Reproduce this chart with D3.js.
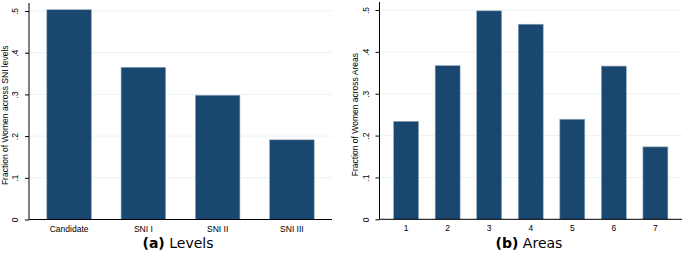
<!DOCTYPE html>
<html>
<head>
<meta charset="utf-8">
<script src="https://cdn.jsdelivr.net/npm/d3@7"></script>
<style>
  body { margin: 0; background: #fff; }
  svg { display: block; }
</style>
</head>
<body>
<div id="chart"></div>
<script>
const levels = ["Candidate", "SNI I", "SNI II", "SNI III"];
const levelShares = [0.503, 0.365, 0.298, 0.191];

const areas = ["1", "2", "3", "4", "5", "6", "7"];
const areaShares = [0.234, 0.367, 0.498, 0.466, 0.239, 0.366, 0.173];

const yTicks = [0, 0.1, 0.2, 0.3, 0.4, 0.5];
const yTickLabels = ["0", ".1", ".2", ".3", ".4", ".5"];

const navy = "#1a476f";
const grid = "#eaf2f3";
const tickFont = "Liberation Sans, Arial, sans-serif";
const capFont = "DejaVu Sans, sans-serif";

const svg = d3.select("#chart")
    .append("svg")
    .attr("width", 685)
    .attr("height", 258);

function panel(opts) {
    const g = svg.append("g");

    const x = d3.scaleBand()
        .domain(opts.cats)
        .range([opts.left, opts.right])
        .paddingInner(0.4)
        .paddingOuter(opts.outer);

    const y = d3.scaleLinear()
        .domain([0, 0.5])
        .range([opts.bottom, opts.top]);

    // gridlines
    g.selectAll(".grid")
        .data(yTicks.slice(1))
        .enter()
        .append("line")
        .attr("x1", opts.left + 1)
        .attr("x2", opts.right)
        .attr("y1", d => y(d))
        .attr("y2", d => y(d))
        .attr("stroke", grid)
        .attr("stroke-width", 1);

    // bars
    g.selectAll(".bar")
        .data(opts.values)
        .enter()
        .append("rect")
        .attr("x", (d, i) => x(opts.cats[i]))
        .attr("y", d => y(d))
        .attr("width", x.bandwidth())
        .attr("height", d => opts.bottom - y(d))
        .attr("fill", navy)
        .attr("stroke", "#8fa7bb")
        .attr("stroke-width", 0.6);

    // y axis
    const yAxis = d3.axisLeft(y)
        .tickValues(yTicks)
        .tickFormat((d, i) => yTickLabels[i])
        .tickSize(4)
        .tickPadding(5);

    const ya = g.append("g")
        .attr("transform", `translate(${opts.left},0)`)
        .call(yAxis);
    ya.select(".domain")
        .attr("d", `M0,${opts.bottom}V${opts.top - 8}`)
        .attr("stroke", "#000");
    ya.selectAll(".tick line").attr("stroke", "#000");
    ya.selectAll(".tick text")
        .attr("transform", "rotate(-90)")
        .attr("x", 0)
        .attr("y", -11)
        .attr("dy", "0")
        .attr("text-anchor", "middle")
        .attr("font-family", tickFont)
        .attr("font-size", 8.5)
        .attr("fill", "#000");

    // x axis
    const xAxis = d3.axisBottom(x)
        .tickSize(0)
        .tickPadding(6);

    const xa = g.append("g")
        .attr("transform", `translate(0,${opts.bottom})`)
        .call(xAxis);
    xa.select(".domain")
        .attr("d", `M${opts.left},0H${opts.right}`)
        .attr("stroke", "#000");
    xa.selectAll(".tick text")
        .attr("font-family", tickFont)
        .attr("font-size", 8.5)
        .attr("fill", "#000");

    // y axis title
    g.append("text")
        .attr("transform", `translate(${opts.titleX},${(opts.top + opts.bottom) / 2}) rotate(-90)`)
        .attr("text-anchor", "middle")
        .attr("font-family", tickFont)
        .attr("font-size", 8.5)
        .text(opts.yTitle);

    // caption
    const cap = g.append("text")
        .attr("x", opts.capX)
        .attr("y", 248)
        .attr("text-anchor", "middle")
        .attr("font-family", capFont)
        .attr("font-size", 14);
    cap.append("tspan").attr("font-weight", "bold").text(opts.capTag);
    cap.append("tspan").text(" " + opts.capText);
}

panel({
    cats: levels,
    values: levelShares,
    left: 29,
    right: 332,
    top: 11,
    bottom: 219.5,
    outer: 0.24,
    titleX: 8,
    yTitle: "Fraction of Women across SNI levels",
    capX: 178,
    capTag: "(a)",
    capText: "Levels"
});

panel({
    cats: areas,
    values: areaShares,
    left: 379.5,
    right: 682,
    top: 10,
    bottom: 219.3,
    outer: 0.34,
    titleX: 358,
    yTitle: "Fraction of Women across Areas",
    capX: 529,
    capTag: "(b)",
    capText: "Areas"
});
</script>
</body>
</html>
